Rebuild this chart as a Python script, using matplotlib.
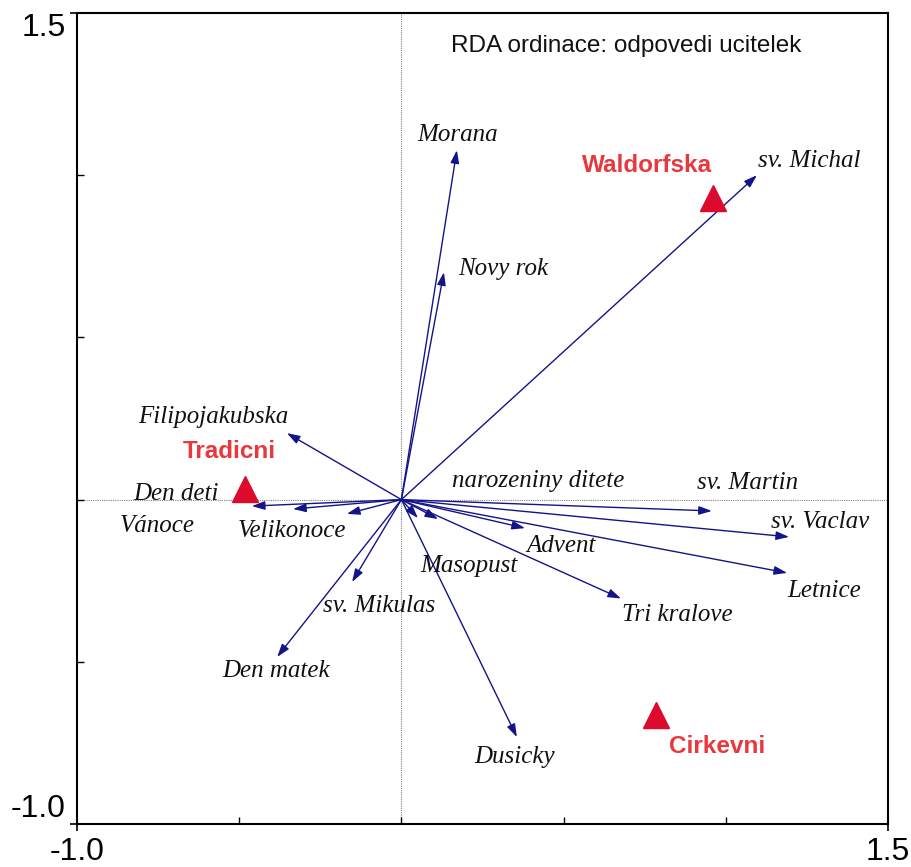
import matplotlib
matplotlib.use("Agg")
import matplotlib.pyplot as plt

# Species (holiday) arrows: RDA scores
species = ["Morana", "Novy rok", "sv. Michal", "Filipojakubska", "Den deti", "Vánoce",
           "Velikonoce", "narozeniny ditete", "sv. Martin", "sv. Vaclav", "Letnice",
           "Advent", "Masopust", "Tri kralove", "sv. Mikulas", "Den matek", "Dusicky"]
sp_x = [0.171, 0.131, 1.096, -0.353, -0.461, -0.334, -0.168, 0.113, 0.957, 1.195, 1.189,
        0.381, 0.051, 0.677, -0.152, -0.383, 0.356]
sp_y = [1.077, 0.701, 1.000, 0.205, -0.020, -0.029, -0.044, -0.060, -0.035, -0.115, -0.226,
        -0.088, -0.057, -0.305, -0.254, -0.485, -0.732]

# School types (centroids)
schools = ["Waldorfska", "Tradicni", "Cirkevni"]
sc_x = [0.960, -0.482, 0.785]
sc_y = [0.930, 0.034, -0.664]

title = "RDA ordinace: odpovedi ucitelek"

# label anchor positions (data coords)
sp_lab = [(0.174, 1.124), (0.313, 0.711), (1.256, 1.044), (-0.581, 0.255), (-0.695, 0.017),
          (-0.754, -0.081), (-0.337, -0.097), (0.421, 0.057), (1.068, 0.051), (1.290, -0.069),
          (1.303, -0.282), (0.492, -0.143), (0.208, -0.205), (0.849, -0.356), (-0.069, -0.328),
          (-0.387, -0.528), (0.350, -0.794)]
sc_lab = [(0.757, 1.031), (-0.531, 0.147), (0.973, -0.760)]

fig = plt.figure(figsize=(9.12, 8.67), dpi=100)
ax = fig.add_axes([77/912, 1 - 824/867, 811/912, 811/867])
ax.set_xlim(-1.0, 1.5)
ax.set_ylim(-1.0, 1.5)

ax.axhline(0, color="#808080", lw=0.8, ls=(0, (1, 1)), zorder=1)
ax.axvline(0, color="#808080", lw=0.8, ls=(0, (1, 1)), zorder=1)

arrow_col = "#14148a"
for x, y in zip(sp_x, sp_y):
    ax.annotate("", xy=(x, y), xytext=(0, 0),
                arrowprops=dict(arrowstyle="-|>,head_length=0.6,head_width=0.2",
                                color=arrow_col, lw=1.0, shrinkA=0, shrinkB=0,
                                mutation_scale=13),
                zorder=3)

for name, (lx, ly) in zip(species, sp_lab):
    ax.text(lx, ly, name, ha="center", va="center", fontsize=18,
            family="Liberation Serif", style="italic", color="#111111", zorder=4)

ax.plot(sc_x, sc_y, ls="none", marker="^", ms=19, color="#dc0a2d", zorder=5)
for name, (lx, ly) in zip(schools, sc_lab):
    ax.text(lx, ly, name, ha="center", va="center", fontsize=17.5, fontweight="bold",
            family="Liberation Sans", color="#e8383d", zorder=6)

ax.text(0.692, 1.398, title, ha="center", va="center", fontsize=17.5,
        family="Liberation Sans", color="#111111")

# ticks: labelled extremes outward, intermediate inward
for axis in (ax.xaxis, ax.yaxis):
    axis.set_ticks([-1.0, 1.5])
    axis.set_ticklabels(["-1.0", "1.5"])
    axis.set_ticks([-0.5, 0.0, 0.5, 1.0], minor=True)
ax.tick_params(which="major", direction="out", length=5, width=1.2,
               labelsize=23)
ax.tick_params(axis="y", which="major", pad=3)
ax.tick_params(axis="x", which="major", pad=4)
ax.tick_params(which="minor", direction="in", length=5, width=1.0)
for lab in ax.get_xticklabels() + ax.get_yticklabels():
    lab.set_family("Liberation Sans")
ylabs = ax.get_yticklabels()
ylabs[0].set_va("bottom")
ylabs[1].set_va("top")
for s in ax.spines.values():
    s.set_linewidth(1.5)

fig.savefig("out.png", dpi=100)
